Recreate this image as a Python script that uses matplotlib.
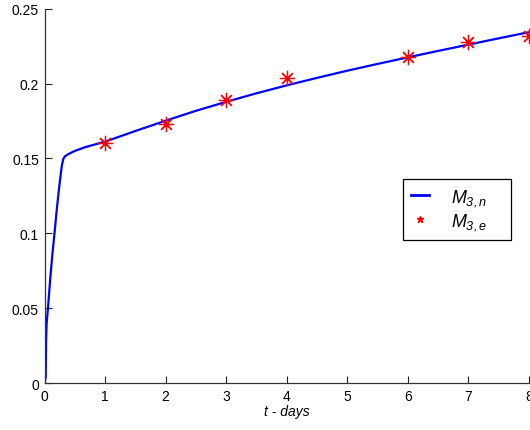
import matplotlib
matplotlib.use("Agg")
import matplotlib.pyplot as plt
from matplotlib.lines import Line2D

plt.rcParams['font.family'] = ['Liberation Sans', 'DejaVu Sans']
plt.rcParams['mathtext.fontset'] = 'custom'
plt.rcParams['mathtext.it'] = 'Liberation Sans:italic'
plt.rcParams['mathtext.rm'] = 'Liberation Sans:italic'

# Model curve M_{3,n}
t_model = [0, 0.02, 0.026, 0.035, 0.057, 0.095, 0.13, 0.165, 0.2, 0.24, 0.285, 0.31,
           0.34, 0.40, 0.5, 0.67, 1.0, 1.5, 2.0, 2.5, 3.0, 3.5, 4.0, 4.5, 5.0,
           5.5, 6.0, 6.5, 7.0, 7.5, 8.0]
m_model = [0, 0.004, 0.028, 0.040, 0.050, 0.070, 0.086, 0.100, 0.115, 0.130, 0.145, 0.1497,
           0.1515, 0.1530, 0.1550, 0.1575, 0.1612, 0.1683, 0.1752, 0.1818, 0.1878, 0.1935,
           0.1988, 0.2038, 0.2086, 0.2131, 0.2175, 0.2218, 0.2260, 0.2302, 0.2343]

# Experimental points M_{3,e}
t_exp = [1, 2, 3, 4, 6, 7, 8]
m_exp = [0.160, 0.173, 0.189, 0.204, 0.218, 0.228, 0.232]

xticks = [0, 1, 2, 3, 4, 5, 6, 7, 8]
yticks = [0, 0.05, 0.1, 0.15, 0.2, 0.25]
ytick_labels = ['0', '0.05', '0.1', '0.15', '0.2', '0.25']

fig = plt.figure(figsize=(5.30, 4.31), dpi=100)
ax = fig.add_axes([0.084, 0.109, 0.914, 0.8685])

ax.plot(t_model, m_model, color=(0, 0, 1), lw=1.6, solid_joinstyle='round')
ax.plot(t_exp, m_exp, linestyle='none', marker=(8, 2, 0), markersize=11,
        markeredgewidth=0.9, color=(1, 0, 0), clip_on=False)

ax.set_xlim(0, 8)
ax.set_ylim(0, 0.25)
ax.set_xticks(xticks)
ax.set_xticklabels([str(v) for v in xticks])
ax.set_yticks(yticks)
ax.set_yticklabels(ytick_labels)
ax.tick_params(direction='in', length=5, width=0.8, labelsize=10, colors='#222222',
               labelcolor='black', pad=4)
for s in ['top', 'right']:
    ax.spines[s].set_visible(False)
for s in ['left', 'bottom']:
    ax.spines[s].set_color('#333333')
    ax.spines[s].set_linewidth(0.9)

ax.set_xlabel('t - days', fontsize=10, fontstyle='italic', labelpad=1)

handles = [Line2D([0], [0], color=(0, 0, 1), lw=2),
           Line2D([0], [0], linestyle='none', marker='*', markersize=5, color=(1, 0, 0))]
leg = ax.legend(handles, [r'$M_{3,n}$', r'$M_{3,e}$'], loc='lower left',
                bbox_to_anchor=(0.740, 0.382, 0.223, 0.188), mode='expand',
                fontsize=13, fancybox=False, framealpha=1, edgecolor='black',
                handlelength=1.0, handletextpad=1.2, borderpad=0.45, labelspacing=0.15,
                borderaxespad=0)
leg.get_frame().set_linewidth(0.9)

fig.savefig('out.png', dpi=100)
